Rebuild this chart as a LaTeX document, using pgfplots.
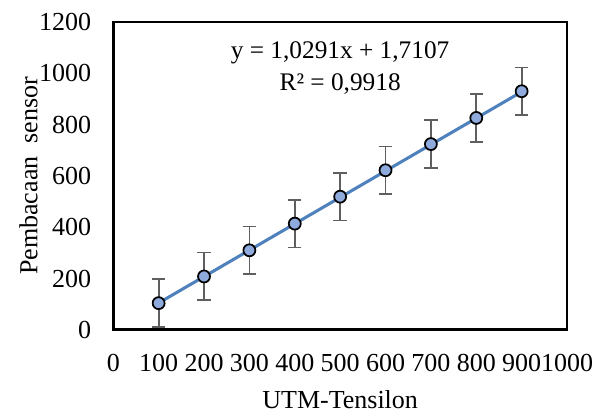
\documentclass[border=0pt]{standalone}
\usepackage{pgfplots}
\pgfplotsset{compat=1.18}
\usepackage{fontspec}
\setmainfont{Liberation Serif}
\definecolor{trend}{RGB}{79,129,189}
\definecolor{markfill}{RGB}{143,170,220}
\definecolor{errgray}{RGB}{95,95,95}
\begin{document}
\begin{tikzpicture}
\begin{axis}[
    scale only axis,
    width=340.5pt, height=231pt,
    xmin=0, xmax=1000, ymin=0, ymax=1200,
    xtick={0,100,...,1000},
    ytick={0,200,...,1200},
    major tick length=0pt,
    axis line style={line width=2.2pt},
    /pgf/number format/assume math mode=true,
    /pgf/number format/1000 sep={},
    tick label style={font=\fontsize{19.5pt}{22pt}\selectfont, inner sep=0pt},
    xticklabel style={anchor=center, yshift=-24.75pt},
    yticklabel style={anchor=east, xshift=-16.5pt},
    label style={font=\fontsize{19.5pt}{22pt}\selectfont},
    xlabel={UTM-Tensilon},
    ylabel={Pembacaan\ \ sensor},
    xlabel style={at={(axis description cs:0.5,-0.228)}, anchor=center, inner sep=0pt},
    ylabel style={at={(axis description cs:-0.187,0.5)}, anchor=center},
    clip=false,
]
\addplot[
    only marks,
    mark=*,
    mark size=4.5pt,
    mark options={fill=markfill, draw=black, line width=1.3pt},
    error bars/.cd,
        y dir=both, y explicit,
        error bar style={errgray, line width=1.3pt},
        error mark options={rotate=90, mark size=5pt, errgray, line width=1.3pt},
] coordinates {
    (100,104) +- (0,93)
    (200,208) +- (0,93)
    (300,310) +- (0,93)
    (400,414) +- (0,93)
    (500,519) +- (0,93)
    (600,622) +- (0,93)
    (700,724) +- (0,93)
    (800,826) +- (0,93)
    (900,930) +- (0,93)
};
\addplot[trend, line width=2.3pt] coordinates {(100,104.6) (900,927.9)};
\node[font=\fontsize{19pt}{24pt}\selectfont, align=center] at (axis cs:500,1021)
    {y = 1,0291x + 1,7107\\R² = 0,9918};
\end{axis}
\pgfresetboundingbox
\path (-85pt,-63pt) rectangle (369.75pt,247.5pt);
\end{tikzpicture}
\end{document}
